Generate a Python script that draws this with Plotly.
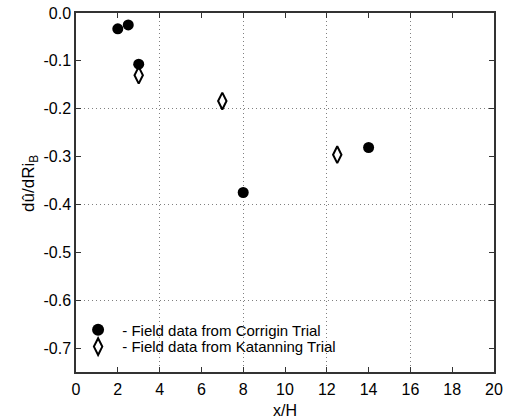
import plotly.graph_objects as go

# Corrigin trial (filled circles)
corrigin_x = [2.0, 2.5, 3.0, 8.0, 14.0]
corrigin_y = [-0.033, -0.025, -0.107, -0.375, -0.281]

# Katanning trial (open diamonds)
katanning_x = [3.0, 7.0, 12.5]
katanning_y = [-0.130, -0.184, -0.296]

x_ticks = [0, 2, 4, 6, 8, 10, 12, 14, 16, 18, 20]
y_ticks = [0.0, -0.1, -0.2, -0.3, -0.4, -0.5, -0.6, -0.7]
y_tick_labels = ["0.0", "-0.1", "-0.2", "-0.3", "-0.4", "-0.5", "-0.6", "-0.7"]
x_grid = [4, 8, 12, 16]
y_grid = [-0.2, -0.4, -0.6]

FONT = "Liberation Sans, Arial, Helvetica, sans-serif"

fig = go.Figure()

fig.add_trace(go.Scatter(
    x=corrigin_x, y=corrigin_y, mode="markers",
    name="\u00a0- Field data from Corrigin Trial", legend="legend",
    marker=dict(symbol="circle", size=11, color="black"),
))
fig.add_trace(go.Scatter(
    x=katanning_x, y=katanning_y, mode="markers",
    name="\u00a0- Field data from Katanning Trial", legend="legend2",
    marker=dict(symbol="diamond-tall-open", size=12, color="black",
                line=dict(width=2, color="black")),
))
# empty trace to carry the dotted grid axes
fig.add_trace(go.Scatter(x=[], y=[], xaxis="x2", yaxis="y2",
                         showlegend=False, hoverinfo="skip"))

axis_line = dict(showline=True, linecolor="#333333", linewidth=1.5, mirror="ticks",
                 ticks="inside", ticklen=5, tickcolor="#333333", tickwidth=1,
                 showgrid=False, zeroline=False, automargin=False,
                 tickfont=dict(family=FONT, size=16, color="black"))

grid_axis = dict(showticklabels=False, ticks="", showgrid=True, gridcolor="#808080",
                 griddash="1px,3px", gridwidth=1, zeroline=False, showline=False,
                 automargin=False)

legend_style = dict(xanchor="left", yanchor="middle", bgcolor="rgba(0,0,0,0)",
                    borderwidth=0, font=dict(family=FONT, size=15, color="black"),
                    itemsizing="constant")

fig.update_layout(
    width=506, height=419,
    margin=dict(l=76, r=12, t=13, b=47),
    paper_bgcolor="white", plot_bgcolor="white",
    font=dict(family=FONT, color="black"),
    xaxis=dict(range=[0, 20], tickvals=x_ticks, ticklabelstandoff=2, **axis_line,
               title=dict(text="x/H", font=dict(family=FONT, size=16), standoff=8)),
    yaxis=dict(range=[-0.75, 0.0], tickvals=y_ticks, ticktext=y_tick_labels, **axis_line),
    xaxis2=dict(overlaying="x", matches="x", range=[0, 20], tickvals=x_grid, **grid_axis),
    yaxis2=dict(overlaying="y", matches="y", range=[-0.75, 0.0], tickvals=y_grid, **grid_axis),
    legend=dict(x=0.005, y=0.117, **legend_style),
    legend2=dict(x=0.005, y=0.070, **legend_style),
    showlegend=True,
    annotations=[dict(
        text="dû/dRi<sub>B</sub>", textangle=-90, showarrow=False,
        xref="paper", yref="paper", x=-0.110, y=0.524,
        xanchor="center", yanchor="middle",
        font=dict(family=FONT, size=17, color="black"),
    )],
)

fig.write_html("out.html")
